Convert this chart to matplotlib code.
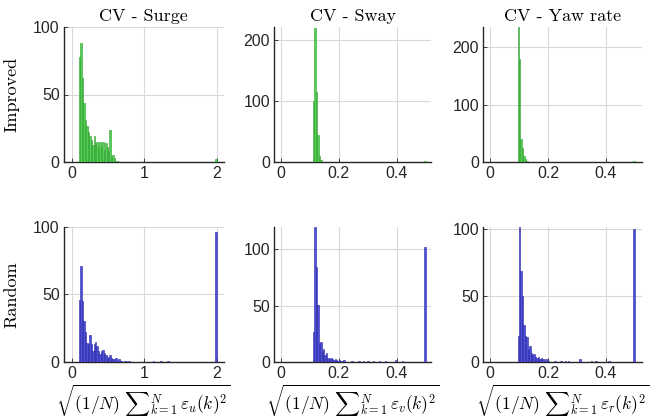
import numpy as np
import matplotlib
matplotlib.use('Agg')
import matplotlib.pyplot as plt

plt.rcParams['font.family'] = ['Liberation Sans', 'DejaVu Sans']
plt.rcParams['mathtext.fontset'] = 'cm'

# 直方图数据 (bin counts)
# surge: bins of width 0.02 starting at 0.10
surge_imp = [78, 88, 62, 44, 31, 27, 22, 19, 16, 13, 19, 14, 15, 11, 15, 12, 15, 9,
             14, 11, 8, 24, 4, 5, 3, 1, 1]
surge_rnd = [46, 71, 45, 30, 22, 14, 13, 20, 13, 8, 13, 15, 12, 8, 6, 8, 9, 7, 5, 4,
             3, 5, 3, 2, 2, 3, 1, 2, 1, 1, 0, 1, 1, 0, 1]
surge_tail_x = [1.13, 1.23, 1.33]
surge_tail_n = [1, 1, 1]
surge_clip_imp, surge_clip_rnd = 2, 96

# sway: bins of width 0.005 starting at 0.110
sway_imp = [100, 220, 115, 45, 10, 3, 1]
sway_rnd = [27, 120, 84, 51, 17, 18, 10, 12, 6, 8, 4, 3, 4, 3, 2, 3, 2, 1, 2, 1, 1, 2]
sway_tail_x = [0.245, 0.27, 0.285, 0.30, 0.32, 0.34, 0.36, 0.395, 0.42]
sway_tail_n = [1, 1, 1, 1, 1, 1, 1, 2, 1]
sway_clip_imp, sway_clip_rnd = 2, 102

# yaw rate: bins of width 0.005 starting at 0.095
yaw_imp = [235, 180, 40, 25, 10, 5, 2]
yaw_rnd = [20, 102, 69, 50, 28, 20, 19, 10, 12, 7, 5, 6, 4, 3, 4, 2, 3, 2, 1, 2, 1, 1]
yaw_tail_x = [0.225, 0.245, 0.26, 0.27, 0.31, 0.35, 0.365, 0.41]
yaw_tail_n = [1, 1, 1, 1, 2, 1, 1, 1]
yaw_clip_imp, yaw_clip_rnd = 2, 100

titles = ['CV - Surge', 'CV - Sway', 'CV - Yaw rate']
subs = ['u', 'v', 'r']

green_face, green_edge = '#52d452', '#2e9a2e'
blue_face, blue_edge = '#5050d8', '#2626a8'


def draw(ax, start, width, counts, tail_x, tail_n, clip_x, clip_n, face, edge):
    counts = np.asarray(counts)
    left = start + width * np.arange(len(counts))
    xs = np.concatenate([left + width / 2, np.asarray(tail_x, float), [clip_x - width / 2]])
    ns = np.concatenate([counts, tail_n, [clip_n]])
    ax.bar(xs, ns, width=width, color=face, edgecolor=edge, linewidth=0.4, zorder=3)


fig = plt.figure(figsize=(6.51, 4.2), dpi=100)
lefts = [0.098, 0.421, 0.742]
widths = [0.246, 0.241, 0.244]
rows = [0.614, 0.138]
axes = [[fig.add_axes([l, b, w, 0.322]) for l, w in zip(lefts, widths)] for b in rows]

spec = [
    (0.10, 0.02, surge_imp, surge_rnd, [], [], surge_tail_x, surge_tail_n, 2.0,
     surge_clip_imp, surge_clip_rnd, (-0.11, 2.1), [0, 1, 2], ['0', '1', '2'], 100, 100, [0, 50, 100]),
    (0.110, 0.005, sway_imp, sway_rnd, [], [], sway_tail_x, sway_tail_n, 0.5,
     sway_clip_imp, sway_clip_rnd, (-0.024, 0.518), [0, 0.2, 0.4], ['0', '0.2', '0.4'], 222, 120, None),
    (0.095, 0.005, yaw_imp, yaw_rnd, [], [], yaw_tail_x, yaw_tail_n, 0.5,
     yaw_clip_imp, yaw_clip_rnd, (-0.024, 0.524), [0, 0.2, 0.4], ['0', '0.2', '0.4'], 235, 102, None),
]

for j, (start, w, imp, rnd, tix, tin, trx, trn, cx, ci, cr, xlim, xt, xtl, ytop_i, ytop_r, yt) in enumerate(spec):
    draw(axes[0][j], start, w, imp, tix, tin, cx, ci, green_face, green_edge)
    draw(axes[1][j], start, w, rnd, trx, trn, cx, cr, blue_face, blue_edge)
    for i, ax in enumerate([axes[0][j], axes[1][j]]):
        ax.set_xlim(*xlim)
        ax.set_ylim(0, [ytop_i, ytop_r][i])
        ax.set_xticks(xt)
        ax.set_xticklabels(xtl)
        if yt is not None:
            ax.set_yticks(yt)
        elif i == 0:
            ax.set_yticks([0, 100, 200])
        else:
            ax.set_yticks([0, 50, 100])
        ax.grid(True, color='#d9d9d9', linewidth=0.8, zorder=0)
        ax.set_axisbelow(True)
        for s in ['top', 'right']:
            ax.spines[s].set_visible(False)
        for s in ['left', 'bottom']:
            ax.spines[s].set_color('#262626')
            ax.spines[s].set_linewidth(1.0)
        ax.tick_params(direction='in', length=3, width=0.6, labelsize=11.5,
                       colors='#262626', pad=3)
    axes[0][j].set_title(titles[j], fontfamily='cmr10', fontsize=13, pad=4)
    axes[1][j].set_xlabel(r'$\sqrt{(1/N)\ {\sum}_{k=1}^{N}\,\varepsilon_%s(k)^2}$' % subs[j],
                          fontsize=12.5, labelpad=1)

axes[0][0].set_ylabel('Improved', fontfamily='cmr10', fontsize=13, labelpad=10)
axes[1][0].set_ylabel('Random', fontfamily='cmr10', fontsize=13, labelpad=10)

fig.savefig('out.png', dpi=100)
